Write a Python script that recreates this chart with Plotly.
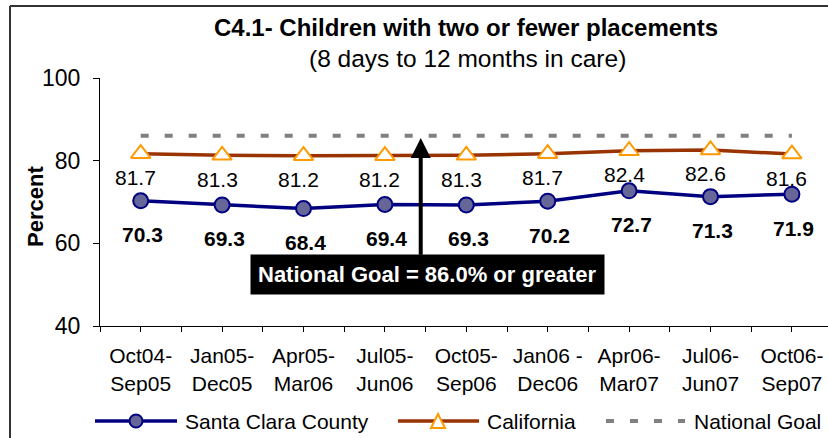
import plotly.graph_objects as go

categories = ["Oct04-<br>Sep05", "Jan05-<br>Dec05", "Apr05-<br>Mar06", "Jul05-<br>Jun06",
              "Oct05-<br>Sep06", "Jan06 -<br>Dec06", "Apr06-<br>Mar07", "Jul06-<br>Jun07", "Oct06-<br>Sep07"]
santa_clara = [70.3, 69.3, 68.4, 69.4, 69.3, 70.2, 72.7, 71.3, 71.9]
california = [81.7, 81.3, 81.2, 81.2, 81.3, 81.7, 82.4, 82.6, 81.6]
national_goal = [86.0] * 9
y_ticks = [40, 60, 80, 100]

FONT = "Liberation Sans, Arial, sans-serif"
W, H = 828, 438
L, R, T, B = 100, 0, 78, 112
PW, PH = W - L - R, H - T - B

def px_x(p):
    return (p - L) / PW

def px_y(p):
    return (H - B - p) / PH

xs = list(range(len(categories)))
step = 81.4
x_right = -0.5 + PW / step

fig = go.Figure()
fig.add_trace(go.Scatter(x=xs, y=national_goal, mode="lines",
                         line=dict(color="#808080", width=4, dash="8px,16px"),
                         name="National Goal", showlegend=False))
fig.add_trace(go.Scatter(x=xs, y=california, mode="lines+markers",
                         line=dict(color="#993300", width=3.5),
                         marker=dict(symbol="triangle-up", size=17, color="white",
                                     line=dict(color="#FF9900", width=2)),
                         name="California", showlegend=False))
fig.add_trace(go.Scatter(x=xs, y=santa_clara, mode="lines+markers",
                         line=dict(color="#000080", width=3.5),
                         marker=dict(symbol="circle", size=15, color="#666699",
                                     line=dict(color="#000080", width=2)),
                         name="Santa Clara County", showlegend=False))

ann = []
for i, v in enumerate(california):
    ann.append(dict(x=i, y=v, xref="x", yref="y", text=f"{v:.1f}", showarrow=False,
                    yshift=-24, xshift=-5, font=dict(family=FONT, size=21, color="black")))
for i, v in enumerate(santa_clara):
    ann.append(dict(x=i, y=v, xref="x", yref="y", text=f"<b>{v:.1f}</b>", showarrow=False,
                    yshift=-34, xshift=2, font=dict(family=FONT, size=21, color="black")))

# arrow to national goal
ann.append(dict(x=3.44, y=85.5, ax=3.44, ay=56.9, xref="x", yref="y", axref="x", ayref="y",
                text="", showarrow=True, arrowhead=2, arrowsize=1, arrowwidth=4,
                arrowcolor="black", standoff=0, startstandoff=0))
ann.append(dict(x=3.526, y=52.46, xref="x", yref="y", xanchor="center", yanchor="middle",
                text="<b>National Goal = 86.0% or greater</b>", showarrow=False,
                bgcolor="black", borderpad=7, font=dict(family=FONT, size=22, color="white")))

# titles
ann.append(dict(x=px_x(466), y=px_y(28), xref="paper", yref="paper", showarrow=False,
                xanchor="center", yanchor="middle",
                text="<b>C4.1- Children with two or fewer placements</b>",
                font=dict(family=FONT, size=24, color="black")))
ann.append(dict(x=px_x(467), y=px_y(58), xref="paper", yref="paper", showarrow=False,
                xanchor="center", yanchor="middle",
                text="(8 days to 12 months in care)",
                font=dict(family=FONT, size=24.5, color="black")))
ann.append(dict(x=px_x(35), y=px_y(207), xref="paper", yref="paper", showarrow=False,
                xanchor="center", yanchor="middle",
                text="<b>Percent</b>", textangle=-90,
                font=dict(family=FONT, size=22, color="black")))

# manual legend
ly = px_y(421)
legend_items = [("Santa Clara County", 183), ("California", 485), ("National Goal", 692)]
for name, tx in legend_items:
    ann.append(dict(x=px_x(tx), y=ly, xref="paper", yref="paper", showarrow=False,
                    text=name, xanchor="left", yanchor="middle",
                    font=dict(family=FONT, size=21, color="black")))

shapes = []
shapes.append(dict(type="line", xref="paper", yref="paper", x0=px_x(95), x1=px_x(177), y0=ly, y1=ly,
                   line=dict(color="#000080", width=3.5)))
shapes.append(dict(type="circle", xref="paper", yref="paper", xsizemode="pixel", ysizemode="pixel",
                   xanchor=px_x(136), yanchor=ly, x0=-6.5, x1=6.5, y0=-6.5, y1=6.5,
                   fillcolor="#666699", line=dict(color="#000080", width=2)))
shapes.append(dict(type="line", xref="paper", yref="paper", x0=px_x(398), x1=px_x(479), y0=ly, y1=ly,
                   line=dict(color="#993300", width=3.5)))
shapes.append(dict(type="path", xref="paper", yref="paper", xsizemode="pixel", ysizemode="pixel",
                   xanchor=px_x(438), yanchor=ly, path="M -7 -7 L 7 -7 L 0 7 Z",
                   fillcolor="white", line=dict(color="#FF9900", width=2)))
shapes.append(dict(type="line", xref="paper", yref="paper", x0=px_x(606), x1=px_x(685), y0=ly, y1=ly,
                   line=dict(color="#808080", width=4, dash="8px,16px")))
# outer frame
shapes.append(dict(type="line", xref="paper", yref="paper", x0=px_x(10), x1=px_x(10),
                   y0=px_y(6), y1=px_y(440), line=dict(color="#333333", width=2)))
shapes.append(dict(type="line", xref="paper", yref="paper", x0=px_x(10), x1=px_x(830),
                   y0=px_y(6), y1=px_y(6), line=dict(color="#333333", width=2)))

fig.update_layout(
    width=W, height=H, margin=dict(l=L, r=R, t=T, b=B),
    paper_bgcolor="white", plot_bgcolor="white",
    showlegend=False, annotations=ann, shapes=shapes,
    font=dict(family=FONT, size=20, color="black"),
)
fig.update_xaxes(range=[-0.5, x_right], tickmode="array", tickvals=xs, ticktext=categories,
                 showline=True, linecolor="black", linewidth=1, ticks="outside", ticklen=5,
                 tickcolor="black", showgrid=False, zeroline=False, ticklabelstandoff=6,
                 minor=dict(ticks="outside", ticklen=5, tickcolor="black", tickmode="linear",
                            tick0=-0.5, dtick=0.5, showgrid=False),
                 tickfont=dict(family=FONT, size=21, color="black"))
fig.update_yaxes(range=[40, 100], tickmode="array", tickvals=y_ticks,
                 showline=True, linecolor="black", linewidth=1, ticks="outside", ticklen=6,
                 tickcolor="black", showgrid=False, zeroline=False, ticklabelstandoff=8,
                 tickfont=dict(family=FONT, size=23, color="black"))

fig.write_html("out.html", config={"displayModeBar": False},
               post_script="document.body.style.margin='0';document.body.style.overflow='hidden';")
